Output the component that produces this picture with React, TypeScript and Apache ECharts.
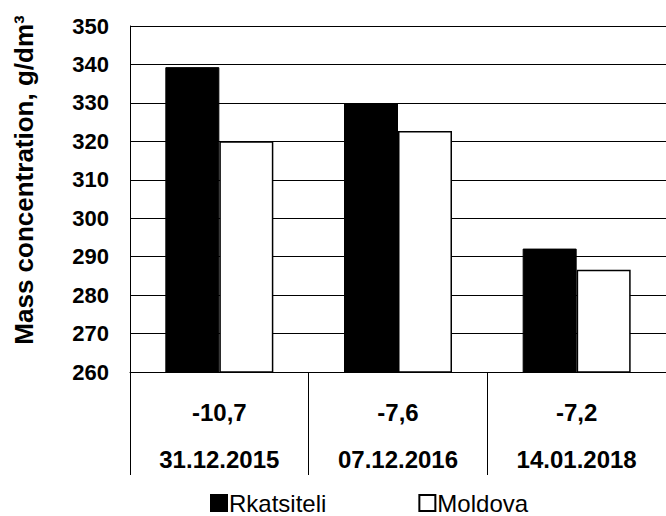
import React, { useEffect, useRef } from "react";
import * as echarts from "echarts";

const dates = ["31.12.2015", "07.12.2016", "14.01.2018"];
const temps = ["-10,7", "-7,6", "-7,2"];
const rkatsiteli = [339.3, 329.9, 292.1];
const moldova = [320.0, 322.7, 286.6];
const yTicks = { min: 260, max: 350, interval: 10 };
const yTitle = "Mass concentration, g/dm³";

const FONT = "'Liberation Sans', Arial, sans-serif";

export default function App() {
  const ref = useRef<HTMLDivElement>(null);
  useEffect(() => {
    if (!ref.current) return;
    const chart = echarts.init(ref.current, undefined, { renderer: "svg" });
    const categories = dates.map((d, i) => temps[i] + "|" + d);
    chart.setOption({
      animation: false,
      backgroundColor: "#fff",
      grid: { left: 130, top: 26, bottom: 144, right: -6, containLabel: false },
      legend: {
        left: 205,
        top: 486,
        itemWidth: 16,
        itemHeight: 16,
        itemGap: 92,
        icon: "rect",
        textStyle: { fontFamily: FONT, fontSize: 24, color: "#000", padding: [0, 0, 0, -3] },
        data: ["Rkatsiteli", "Moldova"],
      },
      xAxis: {
        type: "category",
        data: categories,
        boundaryGap: true,
        axisLine: { show: true, lineStyle: { color: "#000", width: 1 } },
        axisTick: { show: true, length: 103, alignWithLabel: false, lineStyle: { color: "#000", width: 1 } },
        axisLabel: {
          margin: 17,
          interval: 0,
          formatter: (v: string) => {
            const [t, d] = v.split("|");
            return "{v|" + t + "}\n{d|" + d + "}";
          },
          rich: {
            v: { fontFamily: FONT, fontSize: 24, fontWeight: "bold", color: "#000", lineHeight: 47 },
            d: { fontFamily: FONT, fontSize: 24, fontWeight: "bold", color: "#000", lineHeight: 47 },
          },
        },
      },
      yAxis: {
        type: "value",
        min: yTicks.min,
        max: yTicks.max,
        interval: yTicks.interval,
        axisLine: { show: true, lineStyle: { color: "#000", width: 1 } },
        axisTick: { show: false },
        splitLine: { show: true, lineStyle: { color: "#000", width: 1 } },
        axisLabel: { margin: 21, fontFamily: FONT, fontSize: 22, fontWeight: "bold", color: "#000" },
      },
      graphic: [
        {
          type: "text",
          x: 24,
          y: 180,
          rotation: Math.PI / 2,
          style: {
            text: yTitle,
            fontFamily: FONT,
            fontSize: 26,
            fontWeight: "bold",
            fill: "#000",
            align: "center",
            verticalAlign: "middle",
          },
        },
      ],
      series: [
        {
          name: "Rkatsiteli",
          type: "bar",
          data: rkatsiteli,
          barWidth: 54,
          barGap: "0%",
          itemStyle: { color: "#000", borderColor: "#000", borderWidth: 1 },
        },
        {
          name: "Moldova",
          type: "bar",
          data: moldova,
          barWidth: 54,
          barGap: "0%",
          itemStyle: { color: "#fff", borderColor: "#000", borderWidth: 1.5 },
        },
      ],
    });
    return () => chart.dispose();
  }, []);
  return (
    <div
      ref={ref}
      style={{ position: "absolute", left: 0, top: 0, width: 666, height: 516 }}
    />
  );
}
